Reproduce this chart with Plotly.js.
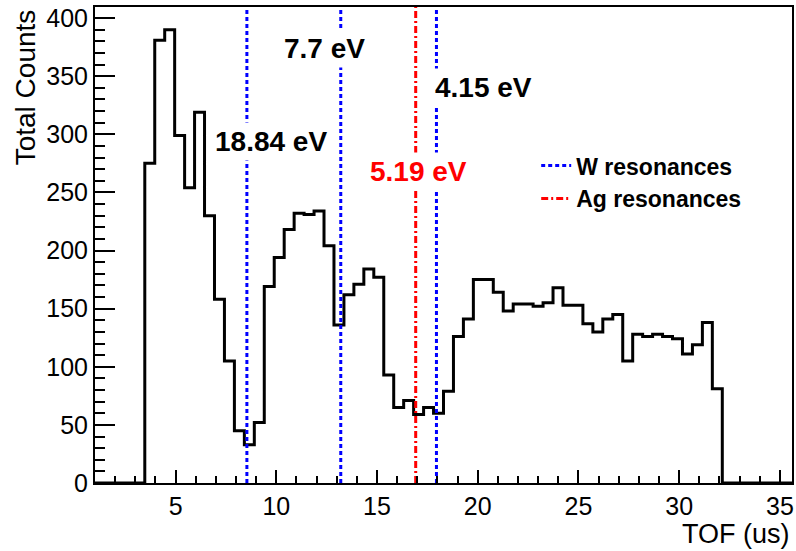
<!DOCTYPE html>
<html>
<head>
<meta charset="utf-8">
<script src="https://cdn.plot.ly/plotly-3.0.1.min.js"></script>
<style>
  html, body { margin: 0; padding: 0; background: #fff; }
  #chart { width: 796px; height: 551px; }
</style>
</head>
<body>
<div id="chart"></div>
<script>
// ---- data ----
var histLow = 1.0;          // histogram range (TOF, us)
var histHigh = 35.6;
var histBins = 70;
var counts = [
  0, 0, 0, 0, 0,
  275, 381, 390, 299, 254, 319, 230, 158, 105, 45,
  33, 52, 169, 194, 218, 232, 231, 234, 204, 136,
  162, 171, 184, 177, 93, 65, 71, 59, 65, 60,
  79, 126, 141, 175, 175, 164, 148, 154, 154, 152,
  155, 168, 153, 153, 137, 130, 141, 145, 105, 128,
  126, 128, 126, 124, 111, 119, 138, 81,
  0, 0, 0, 0, 0, 0, 0
];
var wResTOF = [8.54, 13.2, 17.95];
var agResTOF = [16.92];
var labelTexts = ["18.84 eV", "7.7 eV", "4.15 eV", "5.19 eV"];
var labelTOF = [9.75, 12.4, 20.3, 17.07];
var labelCounts = [294, 374, 340, 268];
var labelColors = ["black", "black", "black", "red"];
var yMax = 409.5;

// ---- build histogram outline ----
var w = (histHigh - histLow) / histBins;
var hx = [], hy = [];
for (var i = 0; i < counts.length; i++) { hx.push(histLow + i * w); hy.push(counts[i]); }
hx.push(histLow + counts.length * w); hy.push(counts[counts.length - 1]);

function vlines(xs) {
  var x = [], y = [];
  xs.forEach(function (v) { x.push(v, v, null); y.push(0, yMax, null); });
  return {x: x, y: y};
}
var wl = vlines(wResTOF), al = vlines(agResTOF);

var FONT = 'Liberation Sans, Arial, sans-serif';

var traces = [
  {x: hx, y: hy, type: 'scatter', mode: 'lines', line: {shape: 'hv', color: 'black', width: 3},
   showlegend: false, hoverinfo: 'skip'},
  {x: wl.x, y: wl.y, type: 'scatter', mode: 'lines', name: 'W resonances',
   line: {color: '#0000ff', width: 3, dash: '4px,3px'}},
  {x: al.x, y: al.y, type: 'scatter', mode: 'lines', name: 'Ag resonances',
   line: {color: '#ff0000', width: 3, dash: '7px,3px,2px,3px'}}
];

var annotations = labelTexts.map(function (t, i) {
  return {x: labelTOF[i], y: labelCounts[i], xref: 'x', yref: 'y', text: '<b>' + t + '</b>',
    showarrow: false, bgcolor: 'white', borderpad: 3,
    font: {family: FONT, size: 28, color: labelColors[i]}};
});
annotations.push({text: 'TOF (us)', xref: 'paper', yref: 'paper', x: 1.0, y: -0.108,
  xanchor: 'right', yanchor: 'middle', showarrow: false,
  font: {family: FONT, size: 27, color: 'black'}});
annotations.push({text: 'Total Counts', xref: 'paper', yref: 'paper', x: -0.1, y: 1.0,
  xanchor: 'center', yanchor: 'top', textangle: -90, showarrow: false,
  font: {family: FONT, size: 28, color: 'black'}});

var layout = {
  width: 796, height: 551,
  margin: {l: 95, r: 4, t: 7, b: 68},
  paper_bgcolor: 'white', plot_bgcolor: 'white',
  font: {family: FONT, size: 25, color: 'black'},
  xaxis: {range: [histLow, histHigh], dtick: 5, tick0: 0, ticks: 'inside', ticklen: 13, tickwidth: 2,
    tickcolor: 'black', showline: true, linewidth: 2, linecolor: 'black', mirror: true,
    showgrid: false, zeroline: false,
    minor: {dtick: 1, tick0: 0, ticks: 'inside', ticklen: 7, tickwidth: 2, tickcolor: 'black', showgrid: false}},
  yaxis: {range: [0, yMax], dtick: 50, tick0: 0, ticks: 'inside', ticklen: 20, tickwidth: 2,
    tickcolor: 'black', showline: true, linewidth: 2, linecolor: 'black', mirror: true,
    showgrid: false, zeroline: false,
    minor: {dtick: 10, tick0: 0, ticks: 'inside', ticklen: 10, tickwidth: 2, tickcolor: 'black', showgrid: false}},
  legend: {x: 0.633, y: 0.712, xanchor: 'left', yanchor: 'top', bgcolor: 'rgba(0,0,0,0)',
    borderwidth: 0, tracegroupgap: 0,
    font: {family: FONT, size: 23, color: 'black', weight: 'bold'}},
  annotations: annotations
};

Plotly.newPlot('chart', traces, layout, {staticPlot: true, displayModeBar: false});
</script>
</body>
</html>
